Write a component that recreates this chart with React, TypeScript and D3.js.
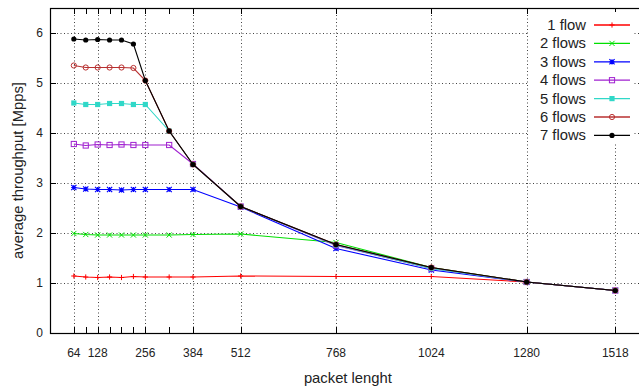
import React from "react";
import * as d3 from "d3";

const packetSizes = [64, 96, 128, 160, 192, 224, 256, 320, 384, 512, 768, 1024, 1280, 1518];
const labeledTicks = [64, 128, 256, 384, 512, 768, 1024, 1280, 1518];
const minorTicks = [96, 160, 192, 224, 320];
const yTicks = [0, 1, 2, 3, 4, 5, 6];

const seriesNames = ["1 flow", "2 flows", "3 flows", "4 flows", "5 flows", "6 flows", "7 flows"];
const flow1 = [1.14, 1.12, 1.11, 1.12, 1.11, 1.13, 1.12, 1.12, 1.12, 1.14, 1.13, 1.13, 1.02, 0.85];
const flow2 = [1.99, 1.97, 1.96, 1.96, 1.96, 1.96, 1.96, 1.96, 1.97, 1.98, 1.81, 1.31, 1.02, 0.85];
const flow3 = [2.91, 2.88, 2.87, 2.87, 2.86, 2.87, 2.87, 2.87, 2.87, 2.52, 1.69, 1.26, 1.02, 0.85];
const flow4 = [3.78, 3.75, 3.77, 3.76, 3.77, 3.76, 3.76, 3.76, 3.38, 2.53, 1.75, 1.29, 1.02, 0.85];
const flow5 = [4.6, 4.57, 4.57, 4.59, 4.59, 4.57, 4.57, 4.04, 3.37, 2.53, 1.76, 1.29, 1.02, 0.85];
const flow6 = [5.35, 5.31, 5.31, 5.31, 5.31, 5.3, 5.05, 4.04, 3.37, 2.53, 1.77, 1.31, 1.02, 0.85];
const flow7 = [5.88, 5.86, 5.87, 5.86, 5.86, 5.78, 5.05, 4.04, 3.37, 2.53, 1.77, 1.31, 1.02, 0.85];
const seriesValues = [flow1, flow2, flow3, flow4, flow5, flow6, flow7];

const colors = ["#ff0000", "#00e000", "#0000ff", "#a020d0", "#30d8c8", "#b83030", "#000000"];
const markers = ["plus", "cross", "star", "openSquare", "filledSquare", "openCircle", "filledCircle"];

const W = 639;
const H = 389;
const left = 50;
const right = 645.8;
const top = 8;
const bottom = 333;
const FONT = "'Liberation Sans', Arial, sans-serif";

function Marker({ type, x, y, color }: { type: string; x: number; y: number; color: string }) {
  const s = 2.6;
  switch (type) {
    case "plus":
      return <path d={`M${x - s},${y}H${x + s}M${x},${y - s}V${y + s}`} stroke={color} strokeWidth={1} fill="none" />;
    case "cross":
      return <path d={`M${x - s},${y - s}L${x + s},${y + s}M${x - s},${y + s}L${x + s},${y - s}`} stroke={color} strokeWidth={1} fill="none" />;
    case "star":
      return (
        <path
          d={`M${x - s},${y}H${x + s}M${x},${y - s}V${y + s}M${x - s},${y - s}L${x + s},${y + s}M${x - s},${y + s}L${x + s},${y - s}`}
          stroke={color}
          strokeWidth={1.2}
          fill="none"
        />
      );
    case "openSquare":
      return <rect x={x - s} y={y - s} width={2 * s} height={2 * s} stroke={color} strokeWidth={1} fill="none" />;
    case "filledSquare":
      return <rect x={x - s} y={y - s} width={2 * s} height={2 * s} fill={color} />;
    case "openCircle":
      return <circle cx={x} cy={y} r={s} stroke={color} strokeWidth={1} fill="none" />;
    default:
      return <circle cx={x} cy={y} r={s} fill={color} />;
  }
}

export default function App() {
  const x = d3.scaleLinear().domain([0, 1600]).range([left, right]);
  const y = d3.scaleLinear().domain([0, 6.5]).range([bottom, top]);
  const line = d3
    .line<number>()
    .x((_, i) => x(packetSizes[i]))
    .y((d) => y(d));

  const legendRight = 586;
  const legendLineX1 = 594;
  const legendLineX2 = 630;
  const legendY0 = 25;
  const legendDy = 18.4;

  return (
    <svg width={W} height={H} style={{ position: "absolute", left: 0, top: 0 }} fontFamily={FONT}>
      <rect x={0} y={0} width={W} height={H} fill="#fff" />
      {/* grid */}
      <g stroke="#444" strokeWidth={1} strokeDasharray="1,2.5">
        {yTicks.filter((t) => t > 0).map((t) => (
          <line key={"gy" + t} x1={left} x2={right} y1={Math.round(y(t)) + 0.5} y2={Math.round(y(t)) + 0.5} />
        ))}
        {labeledTicks.map((t) => (
          <line key={"gx" + t} x1={Math.round(x(t)) + 0.5} x2={Math.round(x(t)) + 0.5} y1={top} y2={bottom} />
        ))}
      </g>
      {/* ticks */}
      <g stroke="#000" strokeWidth={1}>
        {[...labeledTicks, ...minorTicks].map((t) => (
          <g key={"tx" + t}>
            <line x1={Math.round(x(t)) + 0.5} x2={Math.round(x(t)) + 0.5} y1={bottom} y2={bottom - 6} />
            <line x1={Math.round(x(t)) + 0.5} x2={Math.round(x(t)) + 0.5} y1={top} y2={top + 6} />
          </g>
        ))}
        {yTicks.map((t) => (
          <g key={"ty" + t}>
            <line x1={left} x2={left + 6} y1={Math.round(y(t)) + 0.5} y2={Math.round(y(t)) + 0.5} />
            <line x1={right - 7} x2={right} y1={Math.round(y(t)) + 0.5} y2={Math.round(y(t)) + 0.5} />
          </g>
        ))}
      </g>
      {/* legend background */}
      <rect x={528} y={12} width={106} height={131} fill="#fff" />
      {/* frame */}
      <rect x={left + 0.5} y={top + 0.5} width={right - left} height={bottom - top} fill="none" stroke="#000" strokeWidth={1.2} />
      {/* tick labels */}
      <g fontSize={12} fill="#222">
        {labeledTicks.map((t) => (
          <text key={"lx" + t} x={x(t)} y={357} textAnchor="middle">
            {t}
          </text>
        ))}
        {yTicks.map((t) => (
          <text key={"ly" + t} x={43} y={y(t) + 4.3} textAnchor="end">
            {t}
          </text>
        ))}
      </g>
      {/* axis labels */}
      <text x={(left + right) / 2} y={383} textAnchor="middle" fontSize={14.8} fill="#222">
        packet lenght
      </text>
      <text
        transform={`translate(23,${(top + bottom) / 2}) rotate(-90)`}
        textAnchor="middle"
        fontSize={14.8}
        fill="#222"
      >
        average throughput [Mpps]
      </text>
      {/* series */}
      {seriesValues.map((vals, si) => (
        <g key={"s" + si}>
          <path d={line(vals) || ""} fill="none" stroke={colors[si]} strokeWidth={1.1} />
          {vals.map((v, i) => (
            <Marker key={i} type={markers[si]} x={x(packetSizes[i])} y={y(v)} color={colors[si]} />
          ))}
        </g>
      ))}
      {/* legend */}
      {seriesNames.map((name, si) => {
        const ly = legendY0 + si * legendDy;
        return (
          <g key={"lg" + si}>
            <text x={legendRight} y={ly + 5} textAnchor="end" fontSize={14.8} fill="#222">
              {name}
            </text>
            <line x1={legendLineX1} x2={legendLineX2} y1={ly} y2={ly} stroke={colors[si]} strokeWidth={1.3} />
            <Marker type={markers[si]} x={(legendLineX1 + legendLineX2) / 2} y={ly} color={colors[si]} />
          </g>
        );
      })}
    </svg>
  );
}
